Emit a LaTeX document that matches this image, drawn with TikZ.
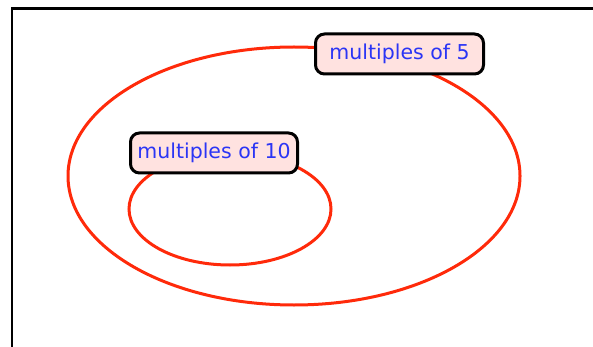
\documentclass[tikz,border=0pt]{standalone}
\usepackage{fontspec}
\setmainfont{DejaVu Sans}
\definecolor{ringred}{HTML}{FF2A0A}
\definecolor{labfill}{HTML}{FFE2E0}
\definecolor{labtext}{HTML}{2B35F5}
\begin{document}
\begin{tikzpicture}[x=1pt,y=-1pt,
  ring/.style={draw=ringred,line width=3pt},
  setlabel/.style={draw=black,line width=3pt,fill=labfill,rounded corners=9pt,
    text=labtext,font=\fontsize{20.5}{24}\selectfont,inner sep=0pt,
    minimum height=40pt},
  frame/.style={draw=black,line width=2.8pt}]
\useasboundingbox (0,0) rectangle (593,347);
\draw[frame] (12,360) -- (12,8.5) -- (610,8.5);
\draw[ring] (294,176) ellipse [x radius=226, y radius=129];
\draw[ring] (230,209) ellipse [x radius=101, y radius=56];
\node[setlabel,minimum width=168pt] (five) at (399.5,54) {\raisebox{-1.5pt}{multiples of 5}};
\node[setlabel,minimum width=167pt] (ten) at (214,153) {\raisebox{-1.5pt}{multiples of 10}};
\end{tikzpicture}
\end{document}
